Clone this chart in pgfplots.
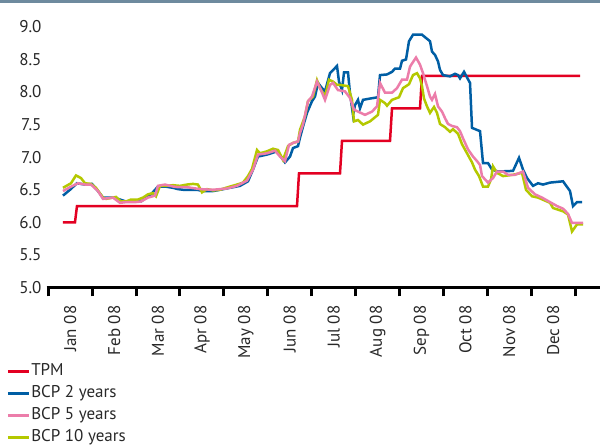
\documentclass[border=0pt]{standalone}
\usepackage{fontspec}
\setmainfont{PT Sans}
\usepackage{pgfplots}
\pgfplotsset{compat=1.18}
\definecolor{tpm}{RGB}{227,0,34}
\definecolor{bcpa}{RGB}{0,94,164}
\definecolor{bcpb}{RGB}{236,125,170}
\definecolor{bcpc}{RGB}{180,200,0}
\definecolor{topbar}{RGB}{110,138,158}
\definecolor{txt}{RGB}{40,40,40}
\newcommand\chartfont{\fontsize{17bp}{20bp}\selectfont}
\begin{document}
\begin{tikzpicture}[x=1bp,y=1bp]
\path[use as bounding box] (0,0) rectangle (600,446);
\fill[topbar] (0,443) rectangle (600,446);
\begin{axis}[
  at={(46.7bp,158.5bp)}, anchor=south west,
  scale only axis, width=553.3bp, height=260.6bp,
  xmin=-0.036, xmax=12.567, ymin=5, ymax=9,
  x filter/.expression={(x-48.3)/43.9},
  axis x line=bottom, axis y line=left,
  x axis line style={line width=3bp, black, -},
  y axis line style={draw=none},
  clip=false,
  tick align=outside,
  major tick length=9bp,
  xtick={0,...,12}, xticklabels={},
  xtick style={line width=3bp, black},
  ytick={5,5.5,...,9},
  ytick style={draw=none},
  /pgf/number format/assume math mode=true,
  /pgf/number format/fixed,
  /pgf/number format/fixed zerofill,
  /pgf/number format/precision=1,
  every tick label/.append style={font=\chartfont, text=txt},
  yticklabel style={anchor=east, inner sep=0pt, xshift=4bp},
  extra x ticks={0.5,1.5,...,11.5},
  extra x tick labels={Jan 08,Feb 08,Mar 08,Apr 08,May 08,Jun 08,Jul 08,Aug 08,Sep 08,Oct 08,Nov 08,Dec 08},
  extra x tick style={major tick length=0pt, xtick style={draw=none},
    xticklabel style={rotate=90, anchor=east, inner sep=0pt, xshift=-18bp}},
  legend image code/.code={\draw[#1] (0bp,0bp) -- (21bp,0bp);},
  legend cell align=left,
  legend style={at={(0,0)}, anchor=north west, xshift=-40.4bp, yshift=-76.5bp,
    draw=none, fill=none, inner sep=0pt, outer sep=0pt, row sep=5.7bp,
    font=\chartfont, text=txt,
    nodes={inner sep=0pt, text height=12bp, text depth=4bp},
    /tikz/every odd column/.append style={column sep=1bp}},
]
% TPM
\addplot[tpm, line width=2.5bp, forget plot] coordinates {
(63,6.0) (75,6.0) (77,6.25) (297,6.25) (299,6.75) (340,6.75) (342,7.25)
(390,7.25) (392,7.75) (420,7.75) (422,8.25) (580,8.25)};
% BCP 2 years
\addplot[bcpa, line width=2.5bp, forget plot] coordinates {
(63,6.41) (70,6.50) (77,6.60) (85,6.58) (92,6.59) (98,6.48) (103,6.38) (113,6.38)
(118,6.36) (126,6.32) (141,6.32) (151,6.43) (158,6.55) (165,6.55) (173,6.53) (178,6.51)
(183,6.50) (197,6.50) (203,6.48) (213,6.48) (220,6.50) (230,6.53) (240,6.56) (248,6.63)
(253,6.81) (258,7.01) (267,7.04) (277,7.09) (285,6.92) (290,7.01) (293,7.14) (298,7.17)
(300,7.30) (303,7.47) (307,7.68) (312,7.86) (315,7.93) (318,8.14) (322,8.06) (325,8.01)
(330,8.29) (337,8.40) (339,8.16) (342,8.03) (344,8.30) (348,8.30) (350,7.98) (353,7.65)
(355,7.80) (358,7.88) (360,7.75) (363,7.88) (370,7.90) (378,7.92) (380,8.26) (387,8.27)
(392,8.31) (395,8.36) (400,8.36) (402,8.48) (406,8.50) (409,8.78) (413,8.88) (422,8.88)
(426,8.83) (430,8.78) (432,8.62) (435,8.57) (438,8.47) (440,8.34) (443,8.26) (450,8.24)
(455,8.28) (458,8.26) (460,8.21) (464,8.31) (470,8.14) (472,7.45) (480,7.40) (483,6.91)
(488,6.91) (492,6.81) (498,6.78) (513,6.79) (519,6.99) (523,6.81) (527,6.68) (533,6.56)
(538,6.60) (543,6.58) (550,6.61) (563,6.63) (570,6.48) (573,6.25) (577,6.31) (582,6.31)};
% BCP 10 years
\addplot[bcpc, line width=2.5bp, forget plot] coordinates {
(63,6.53) (71,6.60) (76,6.72) (81,6.68) (85,6.60) (91,6.59) (96,6.53) (103,6.38)
(106,6.36) (113,6.38) (116,6.39) (121,6.32) (126,6.32) (131,6.35) (138,6.35) (143,6.38)
(148,6.43) (153,6.45) (156,6.40) (160,6.56) (166,6.56) (173,6.57) (180,6.56) (187,6.58)
(193,6.59) (198,6.58) (202,6.46) (207,6.51) (213,6.49) (220,6.50) (228,6.54) (237,6.58)
(243,6.61) (248,6.71) (252,6.82) (257,7.11) (260,7.06) (267,7.09) (273,7.13) (278,7.11)
(283,6.96) (288,7.17) (293,7.22) (298,7.24) (300,7.42) (305,7.63) (308,7.86) (313,7.93)
(317,8.18) (320,8.06) (325,7.93) (329,8.19) (333,8.16) (337,8.11) (340,8.11) (348,8.09)
(352,7.88) (354,7.55) (358,7.57) (363,7.50) (370,7.55) (378,7.65) (380,7.88) (385,7.83)
(387,7.79) (392,7.88) (399,7.92) (403,8.06) (409,8.12) (413,8.26) (417,8.29) (420,8.21)
(422,8.09) (424,7.90) (427,7.78) (430,7.68) (434,7.77) (437,7.68) (440,7.51) (445,7.46)
(450,7.39) (453,7.43) (458,7.36) (462,7.20) (467,7.06) (472,6.92) (475,6.81) (479,6.71)
(483,6.55) (488,6.55) (491,6.66) (493,6.86) (497,6.76) (503,6.71) (513,6.73) (522,6.76)
(526,6.50) (532,6.40) (538,6.38) (550,6.30) (553,6.22) (563,6.17) (568,6.12) (572,5.86)
(577,5.97) (583,5.97)};
% BCP 5 years
\addplot[bcpb, line width=2.5bp, forget plot] coordinates {
(63,6.48) (70,6.54) (78,6.60) (85,6.58) (91,6.58) (98,6.48) (103,6.36) (113,6.38)
(120,6.30) (126,6.31) (135,6.31) (141,6.32) (148,6.38) (155,6.41) (158,6.56) (165,6.58)
(173,6.55) (178,6.54) (187,6.54) (200,6.51) (213,6.50) (227,6.52) (237,6.56) (247,6.64)
(253,6.81) (258,7.04) (267,7.06) (275,7.10) (280,7.01) (285,6.94) (289,7.19) (295,7.23)
(298,7.24) (300,7.37) (303,7.50) (308,7.86) (312,7.93) (317,8.16) (321,8.03) (325,7.88)
(330,8.11) (333,8.14) (338,8.03) (345,8.01) (350,7.91) (354,7.73) (358,7.70) (365,7.65)
(372,7.70) (377,7.78) (380,8.14) (385,7.99) (392,7.99) (397,8.06) (402,8.19) (407,8.19)
(410,8.39) (416,8.53) (420,8.42) (423,8.29) (427,8.09) (430,7.93) (432,7.88) (435,7.97)
(438,7.78) (442,7.70) (445,7.60) (448,7.51) (452,7.48) (457,7.46) (460,7.40) (463,7.29)
(468,7.12) (473,7.01) (477,6.94) (480,6.88) (482,6.71) (485,6.66) (488,6.61) (493,6.68)
(497,6.78) (503,6.78) (508,6.73) (515,6.73) (523,6.78) (528,6.53) (535,6.43) (542,6.38)
(550,6.31) (557,6.25) (563,6.21) (568,6.13) (572,5.99) (575,5.99) (583,5.99)};
\addlegendimage{tpm, line width=3bp}
\addlegendentry{TPM}
\addlegendimage{bcpa, line width=3bp}
\addlegendentry{BCP 2 years}
\addlegendimage{bcpb, line width=3bp}
\addlegendentry{BCP 5 years}
\addlegendimage{bcpc, line width=3bp}
\addlegendentry{BCP 10 years}
\end{axis}
\end{tikzpicture}
\end{document}
